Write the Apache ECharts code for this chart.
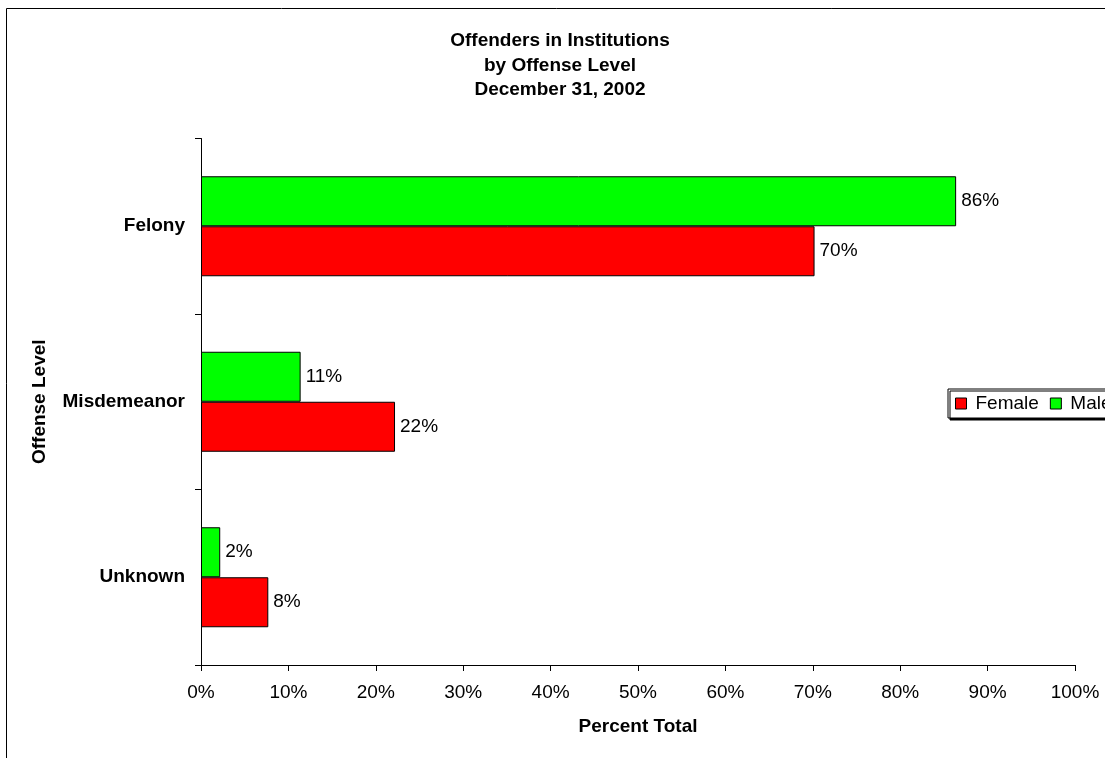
<!DOCTYPE html>
<html>
<head>
<meta charset="utf-8">
<script src="https://cdn.jsdelivr.net/npm/echarts@6/dist/echarts.min.js"></script>
<style>
  html, body { margin: 0; padding: 0; background: #fff; }
  #chart { width: 1105px; height: 758px; }
</style>
</head>
<body>
<div id="chart"></div>
<script>
const titleLines = ['Offenders in Institutions', 'by Offense Level', 'December 31, 2002'];
const categories = ['Felony', 'Misdemeanor', 'Unknown'];
const maleValues = [86.4, 11.4, 2.2];
const femaleValues = [70.2, 22.2, 7.7];
const xTickValues = [0, 10, 20, 30, 40, 50, 60, 70, 80, 90, 100];
const xAxisTitle = 'Percent Total';
const yAxisTitle = 'Offense Level';

const FONT = '"Liberation Sans", Arial, sans-serif';
const chart = echarts.init(document.getElementById('chart'), null, { renderer: 'canvas' });

const labelStyle = {
  show: true,
  position: 'right',
  distance: 5,
  fontFamily: FONT,
  fontSize: 19,
  color: '#000',
  formatter: p => Math.round(p.value) + '%'
};

chart.setOption({
  animation: false,
  backgroundColor: '#fff',
  title: {
    text: titleLines.join('\n'),
    left: 560,
    top: 29,
    padding: 0,
    textAlign: 'center',
    textStyle: { fontFamily: FONT, fontSize: 19, fontWeight: 'bold', color: '#000', lineHeight: 24.3 }
  },
  graphic: [{
    type: 'rect',
    silent: true,
    z: -1,
    shape: { x: 6.5, y: 8.5, width: 1200, height: 800 },
    style: { fill: 'none', stroke: '#000', lineWidth: 1 }
  }],
  legend: {
    data: ['Female', 'Male'],
    left: 948,
    top: 389,
    width: 220,
    orient: 'horizontal',
    itemWidth: 11,
    itemHeight: 11,
    itemGap: 11,
    icon: 'rect',
    padding: [5, 7, 5, 7],
    borderColor: '#000',
    borderWidth: 1,
    borderRadius: 0,
    backgroundColor: '#fff',
    shadowColor: '#000',
    shadowBlur: 0,
    shadowOffsetX: 2,
    shadowOffsetY: 2,
    itemStyle: { borderColor: '#000', borderWidth: 1 },
    textStyle: { fontFamily: FONT, fontSize: 19, color: '#000', padding: [0, 0, 0, 4] }
  },
  grid: { left: 201, right: 30, top: 138.5, bottom: 93, containLabel: false },
  xAxis: {
    type: 'value',
    min: xTickValues[0],
    max: xTickValues[xTickValues.length - 1],
    interval: xTickValues[1] - xTickValues[0],
    name: xAxisTitle,
    nameLocation: 'middle',
    nameGap: 52,
    nameTextStyle: { fontFamily: FONT, fontSize: 19, fontWeight: 'bold', color: '#000' },
    axisLine: { show: true, lineStyle: { color: '#000', width: 1 } },
    axisTick: { show: true, length: 6, lineStyle: { color: '#000' } },
    axisLabel: { fontFamily: FONT, fontSize: 19, color: '#000', margin: 18, formatter: '{value}%' },
    splitLine: { show: false }
  },
  yAxis: {
    type: 'category',
    data: categories,
    inverse: true,
    name: yAxisTitle,
    nameLocation: 'middle',
    nameRotate: 90,
    nameGap: 152,
    nameTextStyle: { fontFamily: FONT, fontSize: 19, fontWeight: 'bold', color: '#000' },
    axisLine: { show: true, lineStyle: { color: '#000', width: 1 } },
    axisTick: { show: true, length: 6, lineStyle: { color: '#000' } },
    axisLabel: { fontFamily: FONT, fontSize: 19, fontWeight: 'bold', color: '#000', margin: 16 },
    splitLine: { show: false }
  },
  series: [
    {
      name: 'Male',
      type: 'bar',
      data: maleValues,
      barWidth: 50,
      barGap: '0%',
      itemStyle: { color: '#00FF00', borderColor: '#000', borderWidth: 1 },
      label: labelStyle
    },
    {
      name: 'Female',
      type: 'bar',
      data: femaleValues,
      barWidth: 50,
      barGap: '0%',
      itemStyle: { color: '#FF0000', borderColor: '#000', borderWidth: 1 },
      label: labelStyle
    }
  ]
});
</script>
</body>
</html>
